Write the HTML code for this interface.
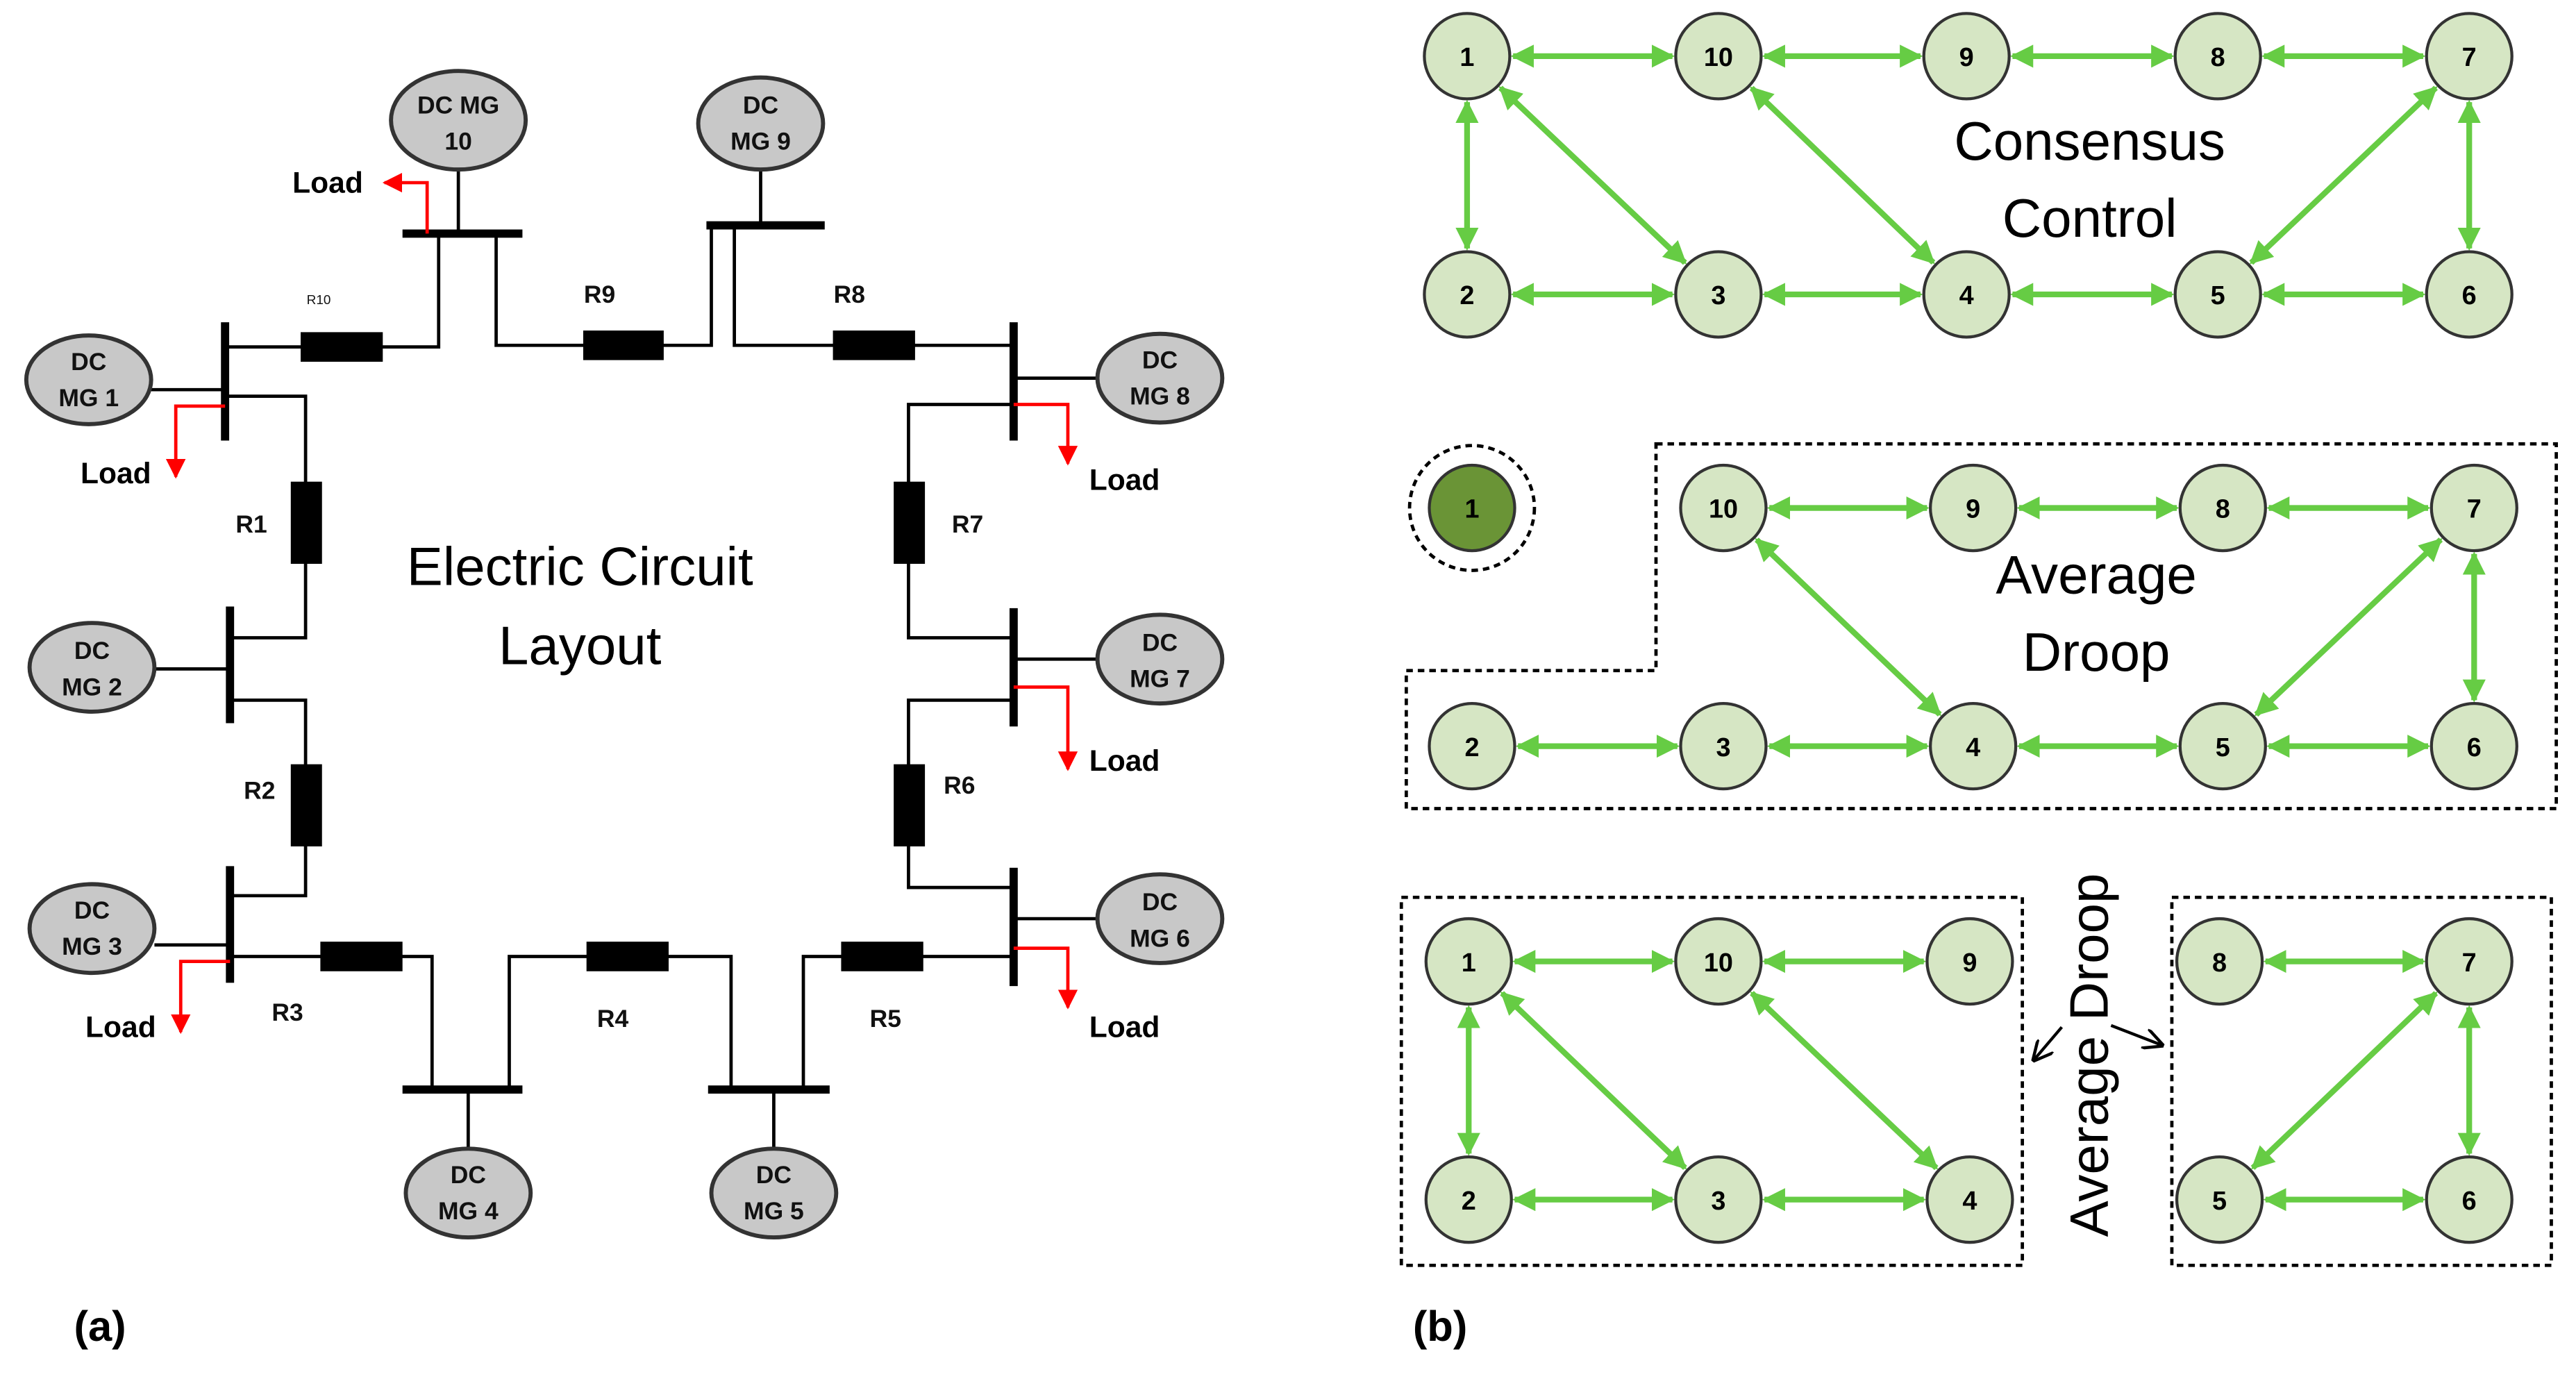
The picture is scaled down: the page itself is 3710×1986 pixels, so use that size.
<!DOCTYPE html>
<html><head><meta charset="utf-8"><style>
html,body{margin:0;padding:0;background:#fff;width:3710px;height:1986px;overflow:hidden}
svg{display:block}
text{font-family:"Liberation Sans",sans-serif}
</style></head><body>
<svg id="s" width="3710" height="1986" viewBox="0 0 1568 839" xmlns="http://www.w3.org/2000/svg">
<defs>
<marker id="ga" viewBox="0 0 10 10" refX="9" refY="5" markerWidth="4" markerHeight="4" orient="auto-start-reverse"><path d="M0,0L10,5L0,10z" fill="#66cc44"/></marker>
<marker id="ra" viewBox="0 0 10 10" refX="9" refY="5" markerWidth="6" markerHeight="6" orient="auto"><path d="M0,0L10,5L0,10z" fill="#ff0000"/></marker>
<marker id="ka" viewBox="0 0 10 10" refX="9" refY="5" markerWidth="7" markerHeight="7" orient="auto"><path d="M0,0L10,5L0,10" fill="none" stroke="#000" stroke-width="1.5"/></marker>
</defs>
<g fill="none" stroke="#000" stroke-width="2">
<polyline points="137,211 267,211 267,142"/>
<polyline points="302,142 302,210 433,210 433,137"/>
<polyline points="447,137 447,210 617,210"/>
<polyline points="137,241 186,241 186,388 140,388"/>
<polyline points="140,426 186,426 186,545 140,545"/>
<polyline points="140,582 263,582 263,663"/>
<polyline points="310,663 310,582 445,582 445,663"/>
<polyline points="489,663 489,582 617,582"/>
<polyline points="617,540 553,540 553,426 617,426"/>
<polyline points="617,388 553,388 553,246 617,246"/>
<line x1="279" y1="103" x2="279" y2="142"/><line x1="463" y1="100" x2="463" y2="137"/>
<line x1="92" y1="237" x2="137" y2="237"/><line x1="94" y1="407" x2="140" y2="407"/>
<line x1="94" y1="575" x2="140" y2="575"/><line x1="617" y1="230" x2="668" y2="230"/>
<line x1="617" y1="401" x2="668" y2="401"/><line x1="617" y1="559" x2="668" y2="559"/>
<line x1="285" y1="663" x2="285" y2="700"/><line x1="471" y1="663" x2="471" y2="700"/>
</g>
<g stroke="#000" stroke-width="5">
<line x1="245" y1="142" x2="318" y2="142"/><line x1="430" y1="137" x2="502" y2="137"/>
<line x1="137" y1="196" x2="137" y2="268"/><line x1="140" y1="369" x2="140" y2="440"/>
<line x1="140" y1="527" x2="140" y2="598"/><line x1="617" y1="196" x2="617" y2="268"/>
<line x1="617" y1="370" x2="617" y2="442"/><line x1="617" y1="528" x2="617" y2="600"/>
<line x1="245" y1="663" x2="318" y2="663"/><line x1="431" y1="663" x2="505" y2="663"/>
</g>
<g fill="#000">
<rect x="183" y="202" width="50" height="18"/><rect x="355" y="201" width="49" height="18"/>
<rect x="507" y="201" width="50" height="18"/><rect x="177" y="293" width="19" height="50"/>
<rect x="177" y="465" width="19" height="50"/><rect x="195" y="573" width="50" height="18"/>
<rect x="357" y="573" width="50" height="18"/><rect x="512" y="573" width="50" height="18"/>
<rect x="544" y="465" width="19" height="50"/><rect x="544" y="293" width="19" height="50"/>
</g>
<g fill="none" stroke="#ff0000" stroke-width="2">
<polyline points="260,142 260,111 234,111" marker-end="url(#ra)"/>
<polyline points="137,247 107,247 107,290" marker-end="url(#ra)"/>
<polyline points="617,246 650,246 650,282" marker-end="url(#ra)"/>
<polyline points="617,418 650,418 650,468" marker-end="url(#ra)"/>
<polyline points="617,577 650,577 650,613" marker-end="url(#ra)"/>
<polyline points="140,585 110,585 110,628" marker-end="url(#ra)"/>
</g>
<g fill="#c8c8c8" stroke="#333" stroke-width="2.5">
<ellipse cx="279" cy="73" rx="41" ry="30"/><ellipse cx="463" cy="75" rx="38" ry="28"/>
<ellipse cx="54" cy="231" rx="38" ry="27"/><ellipse cx="56" cy="406" rx="38" ry="27"/>
<ellipse cx="56" cy="565" rx="38" ry="27"/><ellipse cx="706" cy="230" rx="38" ry="27"/>
<ellipse cx="706" cy="401" rx="38" ry="27"/><ellipse cx="706" cy="559" rx="38" ry="27"/>
<ellipse cx="285" cy="726" rx="38" ry="27"/><ellipse cx="471" cy="726" rx="38" ry="27"/>
</g>
<g font-size="15" font-weight="bold" text-anchor="middle" fill="#111">
<text x="279" y="69">DC MG</text><text x="279" y="91">10</text>
<text x="463" y="69">DC</text><text x="463" y="91">MG 9</text>
<text x="54" y="225">DC</text><text x="54" y="247">MG 1</text>
<text x="56" y="401">DC</text><text x="56" y="423">MG 2</text>
<text x="56" y="559">DC</text><text x="56" y="581">MG 3</text>
<text x="706" y="224">DC</text><text x="706" y="246">MG 8</text>
<text x="706" y="396">DC</text><text x="706" y="418">MG 7</text>
<text x="706" y="554">DC</text><text x="706" y="576">MG 6</text>
<text x="285" y="720">DC</text><text x="285" y="742">MG 4</text>
<text x="471" y="720">DC</text><text x="471" y="742">MG 5</text>
</g>
<g font-size="18" font-weight="bold" fill="#000">
<text x="178" y="117">Load</text><text x="49" y="294">Load</text><text x="663" y="298">Load</text>
<text x="663" y="469">Load</text><text x="663" y="631">Load</text><text x="52" y="631">Load</text>
</g>
<g font-size="15" font-weight="bold" fill="#111" text-anchor="middle">
<text x="194" y="185" font-size="8" font-weight="normal">R10</text>
<text x="365" y="184">R9</text><text x="517" y="184">R8</text><text x="153" y="324">R1</text>
<text x="589" y="324">R7</text><text x="158" y="486">R2</text><text x="584" y="483">R6</text>
<text x="175" y="621">R3</text><text x="373" y="625">R4</text><text x="539" y="625">R5</text>
</g>
<g font-size="33" text-anchor="middle" fill="#000">
<text x="353" y="356">Electric Circuit</text><text x="353" y="404">Layout</text>
<text x="1272" y="97">Consensus</text><text x="1272" y="144">Control</text>
<text x="1276" y="361">Average</text><text x="1276" y="408">Droop</text>
<text transform="translate(1283,642) rotate(-90)">Average Droop</text>
</g>
<g font-size="26" font-weight="bold" fill="#000"><text x="45" y="816">(a)</text><text x="860" y="816">(b)</text></g>
<g fill="none" stroke="#000" stroke-width="2" stroke-dasharray="4,3">
<circle cx="896" cy="309" r="38"/>
<polygon points="1008,270 1556,270 1556,492 856,492 856,408 1008,408"/>
<rect x="853" y="546" width="378" height="224"/>
<rect x="1322" y="546" width="231" height="224"/>
</g>
<g stroke="#000" stroke-width="1.8" fill="none">
<line x1="1255" y1="625" x2="1238" y2="645" marker-end="url(#ka)"/>
<line x1="1285" y1="624" x2="1316" y2="636" marker-end="url(#ka)"/>
</g>
<g id="edges" stroke="#66cc44" stroke-width="3.5" fill="none"></g>
<g id="nodes"></g>
</svg>
<script>
var NS="http://www.w3.org/2000/svg";
var E=document.getElementById("edges"),N=document.getElementById("nodes");
var R=26;
function graph(nodes,edges){
 edges.forEach(function(e){var a=nodes[e[0]],b=nodes[e[1]];var dx=b[0]-a[0],dy=b[1]-a[1],d=Math.hypot(dx,dy);
  var ux=dx/d,uy=dy/d,l=document.createElementNS(NS,"line");
  l.setAttribute("x1",a[0]+ux*(R+2));l.setAttribute("y1",a[1]+uy*(R+2));
  l.setAttribute("x2",b[0]-ux*(R+2));l.setAttribute("y2",b[1]-uy*(R+2));
  l.setAttribute("marker-start","url(#ga)");l.setAttribute("marker-end","url(#ga)");E.appendChild(l);});
 for(var k in nodes){var p=nodes[k];var c=document.createElementNS(NS,"circle");
  c.setAttribute("cx",p[0]);c.setAttribute("cy",p[1]);c.setAttribute("r",R);
  c.setAttribute("fill",p[2]||"#d6e6c4");c.setAttribute("stroke","#333");c.setAttribute("stroke-width","1.8");N.appendChild(c);
  var t=document.createElementNS(NS,"text");t.setAttribute("x",p[0]);t.setAttribute("y",p[1]+6);
  t.setAttribute("text-anchor","middle");t.setAttribute("font-size","16");t.setAttribute("font-weight","bold");
  t.textContent=k.replace(/[a-z]/g,"");N.appendChild(t);}
}
graph({"1":[893,34],"10":[1046,34],"9":[1197,34],"8":[1350,34],"7":[1503,34],"2":[893,179],"3":[1046,179],"4":[1197,179],"5":[1350,179],"6":[1503,179]},
 [["1","10"],["10","9"],["9","8"],["8","7"],["2","3"],["3","4"],["4","5"],["5","6"],["1","2"],["1","3"],["10","4"],["7","5"],["7","6"]]);
graph({"1m":[896,309,"#6a9436"],"10m":[1049,309],"9m":[1201,309],"8m":[1353,309],"7m":[1506,309],"2m":[896,454],"3m":[1049,454],"4m":[1201,454],"5m":[1353,454],"6m":[1506,454]},
 [["10m","9m"],["9m","8m"],["8m","7m"],["2m","3m"],["3m","4m"],["4m","5m"],["5m","6m"],["10m","4m"],["7m","5m"],["7m","6m"]]);
graph({"1b":[894,585],"10b":[1046,585],"9b":[1199,585],"2b":[894,730],"3b":[1046,730],"4b":[1199,730],"8b":[1351,585],"7b":[1503,585],"5b":[1351,730],"6b":[1503,730]},
 [["1b","10b"],["10b","9b"],["1b","2b"],["1b","3b"],["10b","4b"],["2b","3b"],["3b","4b"],["8b","7b"],["7b","5b"],["7b","6b"],["5b","6b"]]);
</script>
</body></html>
